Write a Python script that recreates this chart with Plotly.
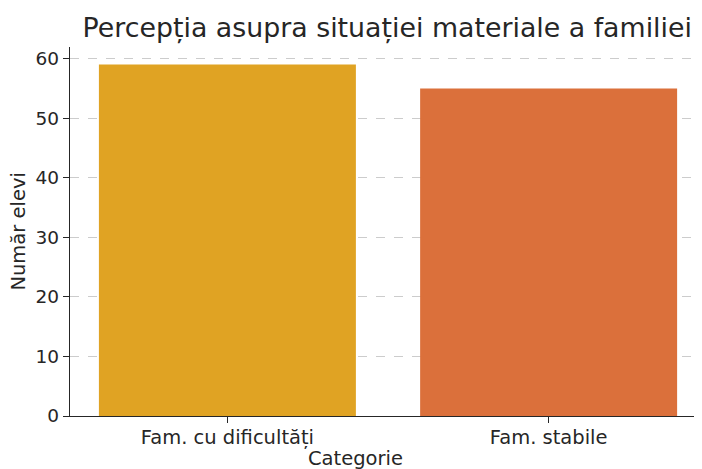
import plotly.graph_objects as go

categories = ["Fam. cu dificultăți", "Fam. stabile"]
elevi = [59, 55]
bar_colors = ["#E0A323", "#DB703B"]
y_ticks = [0, 10, 20, 30, 40, 50, 60]

FONT = "DejaVu Sans"
INK = "#262626"

fig = go.Figure()
fig.add_trace(go.Bar(
    x=categories,
    y=elevi,
    marker=dict(color=bar_colors, line=dict(width=0)),
    width=0.8,
))

# the page body has an 8px margin, so the figure is 8px smaller than the window
fig.update_layout(
    width=694,
    height=461,
    margin=dict(l=62, r=0, t=39, b=53, autoexpand=False),
    paper_bgcolor="white",
    plot_bgcolor="white",
    font=dict(family=FONT, size=19, color=INK),
    showlegend=False,
    title=dict(
        text="Percepția asupra situației materiale a familiei",
        font=dict(family=FONT, size=26.8, color=INK),
        x=0.5465,
        xanchor="center",
        y=0.957,
        yanchor="middle",
    ),
    xaxis=dict(
        type="category",
        range=[-0.49, 1.4775],
        showline=True,
        linecolor=INK,
        linewidth=1.3,
        ticks="outside",
        ticklen=6,
        tickcolor=INK,
        showgrid=False,
        tickfont=dict(size=19.5),
        ticklabelstandoff=-3,
        automargin=False,
    ),
    yaxis=dict(
        range=[0, 61.95],
        tickvals=y_ticks,
        showline=True,
        linecolor=INK,
        linewidth=1.3,
        ticks="outside",
        ticklen=6,
        tickcolor=INK,
        showgrid=True,
        gridcolor="#CCCCCC",
        griddash="dash",
        gridwidth=0.8,
        zeroline=False,
        tickfont=dict(size=18.5),
        automargin=False,
    ),
    annotations=[
        dict(text="Categorie", xref="paper", yref="paper", x=0.4525, y=-0.115,
             xanchor="center", yanchor="middle", showarrow=False,
             font=dict(size=19.5)),
        dict(text="Număr elevi", xref="paper", yref="paper", x=-0.0815, y=0.501,
             xanchor="center", yanchor="middle", showarrow=False, textangle=-90,
             font=dict(size=19.5)),
    ],
)

fig.write_html("out.html")
